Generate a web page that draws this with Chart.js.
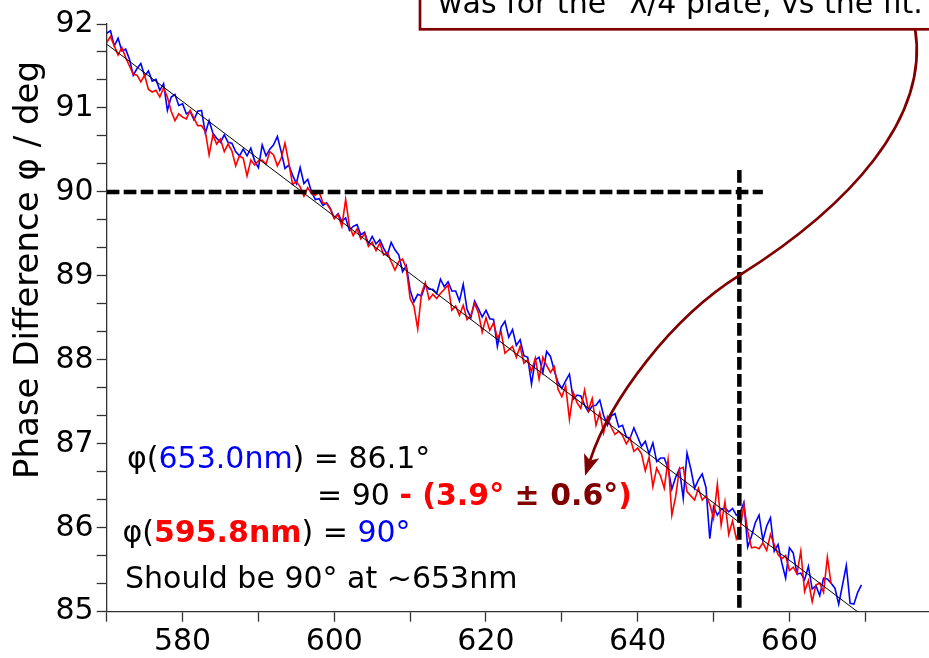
<!DOCTYPE html>
<html>
<head>
<meta charset="utf-8">
<script src="https://cdn.jsdelivr.net/npm/chart.js@4.4.1/dist/chart.umd.min.js"></script>
<style>
html, body { margin: 0; padding: 0; background: #fff; }
#wrap { width: 929px; height: 658px; }
</style>
</head>
<body>
<div id="wrap"><canvas id="phase-chart" width="929" height="658"></canvas></div>
<script>
// wavelength grid (nm) of the two measured runs
var waveStart = 570, waveStep = 0.5;

// blue run, phase difference in deg
var blueValues = [
	91.89, 91.92, 91.74, 91.83, 91.68, 91.70, 91.58, 91.39, 91.47, 91.53,
	91.38, 91.44, 91.32, 91.34, 91.21, 91.29, 90.97, 91.13, 91.16, 91.03,
	91.05, 90.93, 90.96, 90.86, 90.96, 90.97, 90.70, 90.85, 90.70, 90.64,
	90.59, 90.68, 90.59, 90.58, 90.48, 90.43, 90.51, 90.43, 90.52, 90.37,
	90.29, 90.56, 90.43, 90.51, 90.56, 90.66, 90.48, 90.28, 90.32, 90.20,
	90.10, 90.29, 90.10, 90.15, 90.00, 89.91, 89.92, 89.84, 89.87, 89.80,
	89.69, 89.74, 89.65, 89.69, 89.54, 89.59, 89.61, 89.49, 89.52, 89.38,
	89.47, 89.38, 89.43, 89.33, 89.25, 89.40, 89.31, 89.25, 89.05, 89.12,
	88.83, 88.69, 88.78, 88.76, 88.89, 88.84, 88.84, 88.79, 88.96, 88.87,
	88.93, 88.82, 88.82, 88.70, 88.90, 88.60, 88.50, 88.70, 88.61, 88.51,
	88.59, 88.49, 88.48, 88.16, 88.39, 88.46, 88.27, 88.36, 88.17, 88.24,
	88.05, 88.03, 87.71, 88.00, 88.03, 87.85, 88.10, 88.04, 87.87, 87.73,
	87.66, 87.75, 87.83, 87.53, 87.58, 87.57, 87.46, 87.38, 87.45, 87.46,
	87.52, 87.34, 87.22, 87.33, 87.36, 87.20, 87.22, 87.08, 87.07, 87.19,
	87.08, 86.97, 87.03, 86.88, 87.01, 86.79, 86.83, 86.83, 86.71, 86.46,
	86.60, 86.70, 86.35, 86.89, 86.70, 86.47, 86.57, 86.64, 86.48, 85.87,
	86.25, 86.15, 86.22, 86.24, 86.19, 86.23, 86.15, 86.18, 86.30, 85.77,
	85.90, 86.06, 86.15, 85.85, 86.02, 86.12, 85.72, 85.80, 85.58, 85.40,
	85.76, 85.70, 85.45, 85.46, 85.38, 85.54, 85.27, 85.31, 85.19, 85.40,
	85.39, 85.34, 85.28, 85.09, 85.32, 85.55, 85.10, 85.09, 85.23, 85.32
];

// red run, phase difference in deg
var redValues = [
	91.78, 91.85, 91.74, 91.63, 91.72, 91.60, 91.50, 91.40, 91.39, 91.31,
	91.39, 91.22, 91.19, 91.21, 91.13, 91.24, 91.13, 90.96, 90.85, 90.93,
	90.89, 90.87, 90.97, 90.88, 90.79, 90.79, 90.72, 90.44, 90.68, 90.57,
	90.63, 90.48, 90.57, 90.49, 90.31, 90.43, 90.40, 90.19, 90.38, 90.32,
	90.37, 90.38, 90.33, 90.48, 90.44, 90.31, 90.40, 90.58, 90.35, 90.09,
	90.12, 90.06, 89.95, 90.05, 89.98, 89.96, 90.00, 89.87, 89.86, 89.79,
	89.68, 89.73, 89.59, 89.91, 89.59, 89.48, 89.56, 89.44, 89.50, 89.35,
	89.40, 89.30, 89.39, 89.25, 89.28, 89.17, 89.07, 89.17, 89.20, 89.09,
	88.73, 88.64, 88.37, 88.79, 88.92, 88.72, 88.78, 88.73, 88.79, 88.84,
	88.89, 88.59, 88.64, 88.53, 88.65, 88.48, 88.53, 88.67, 88.56, 88.33,
	88.50, 88.35, 88.44, 88.26, 88.33, 88.08, 88.12, 88.16, 88.03, 88.16,
	87.96, 88.00, 87.86, 88.02, 87.77, 88.03, 87.93, 87.85, 87.92, 87.65,
	87.56, 87.69, 87.29, 87.61, 87.49, 87.42, 87.64, 87.40, 87.54, 87.22,
	87.37, 87.13, 87.32, 87.20, 87.11, 87.15, 87.10, 87.00, 87.07, 86.91,
	86.95, 86.88, 86.68, 86.84, 86.49, 86.71, 86.62, 86.47, 86.81, 86.15,
	86.37, 86.70, 86.72, 86.43, 86.38, 86.33, 86.47, 86.33, 86.38, 86.28,
	86.11, 86.52, 86.03, 86.31, 85.92, 86.08, 85.87, 85.99, 86.27, 85.96,
	85.76, 85.77, 85.75, 85.82, 85.73, 85.92, 85.80, 85.68, 85.63, 85.67,
	85.49, 85.53, 85.45, 85.72, 85.24, 85.37, 85.12, 85.32, 85.34, 85.23,
	85.65, 85.33
];

// linear fit ends
var fitX = [570, 670];
var fitY = [91.76, 84.93];

// the 90 deg / 653 nm guide lines
var guideX = [570, 656.5];
var guideY = [85, 90.26];
var markWave = 653.4, markPhase = 90;

var xTickLabels = [580, 600, 620, 640, 660];
var yTickLabels = [85, 86, 87, 88, 89, 90, 91, 92];

// arrow from the note box down to the data (wavelength, phase)
var arrowPath = [[676.57, 91.94], [678.47, 90.87], [667.88, 89.83], [653.4, 89.005],
	[644.42, 88.50], [636.35, 87.525], [633.06, 86.62]];

var darkRed = "#800000";
var FONT = '"DejaVu Sans", "Liberation Sans", sans-serif';

Chart.defaults.font.family = FONT;

function toPoints(vals){
	var pts = [];
	for(var i = 0; i < vals.length; i++){
		pts.push({x: waveStart + i * waveStep, y: vals[i]});
	}
	return pts;
}

function drawRuns(ctx, x, y, runs){
	for(var i = 0; i < runs.length; i++){
		ctx.font = (runs[i][2] ? 'bold ' : '') + '30px ' + FONT;
		ctx.fillStyle = runs[i][1];
		ctx.fillText(runs[i][0], x, y);
		x += ctx.measureText(runs[i][0]).width;
	}
}

var notesPlugin = {
	id: 'notes',
	beforeDraw: function(chart){
		var ctx = chart.ctx;
		ctx.save();
		ctx.fillStyle = '#fff';
		ctx.fillRect(0, 0, chart.width, chart.height);
		ctx.restore();
	},
	afterDraw: function(chart){
		var ctx = chart.ctx;
		var xs = chart.scales.x, ys = chart.scales.y;

		// y axis title
		ctx.save();
		ctx.fillStyle = '#000';
		ctx.font = '34px ' + FONT;
		ctx.translate(38, 270);
		ctx.rotate(-Math.PI / 2);
		ctx.textAlign = 'center';
		ctx.textBaseline = 'alphabetic';
		ctx.fillText('Phase Difference φ / deg', 0, 0);
		ctx.restore();

		// result text
		ctx.save();
		ctx.textAlign = 'left';
		ctx.textBaseline = 'alphabetic';
		drawRuns(ctx, 127, 468, [['φ(', '#000'], ['653.0nm', '#0000ff'], [') = 86.1°', '#000']]);
		drawRuns(ctx, 317, 505, [['= 90 ', '#000'], ['- (3.9°', '#ff0000', true], [' ± 0.6°', darkRed, true], [')', '#ff0000', true]]);
		drawRuns(ctx, 122.5, 542, [['φ(', '#000'], ['595.8nm', '#ff0000', true], [') = ', '#000'], ['90°', '#0000ff']]);
		drawRuns(ctx, 125, 588, [['Should be 90° at ~653nm', '#000']]);
		ctx.restore();

		// curved arrow
		var p = arrowPath.map(function(a){ return [xs.getPixelForValue(a[0]), ys.getPixelForValue(a[1])]; });
		var tip = p[6];
		var dx = tip[0] - p[5][0], dy = tip[1] - p[5][1];
		var len = Math.sqrt(dx * dx + dy * dy);
		dx /= len; dy /= len;
		var headLen = 21, headHalf = 8;
		var notch = [tip[0] - dx * (headLen - 5), tip[1] - dy * (headLen - 5)];
		ctx.save();
		ctx.strokeStyle = darkRed;
		ctx.fillStyle = darkRed;
		ctx.lineWidth = 2.7;
		ctx.beginPath();
		ctx.moveTo(p[0][0], p[0][1]);
		ctx.bezierCurveTo(p[1][0], p[1][1], p[2][0], p[2][1], p[3][0], p[3][1]);
		ctx.bezierCurveTo(p[4][0], p[4][1], p[5][0], p[5][1], notch[0], notch[1]);
		ctx.stroke();
		ctx.beginPath();
		ctx.moveTo(tip[0], tip[1]);
		ctx.lineTo(tip[0] - dx * headLen - dy * headHalf, tip[1] - dy * headLen + dx * headHalf);
		ctx.lineTo(notch[0], notch[1]);
		ctx.lineTo(tip[0] - dx * headLen + dy * headHalf, tip[1] - dy * headLen - dx * headHalf);
		ctx.closePath();
		ctx.fill();

		// note box, cut by the top of the figure
		ctx.fillStyle = '#fff';
		ctx.fillRect(420, -60, 560, 89.3);
		ctx.lineWidth = 2.7;
		ctx.strokeRect(420, -60, 560, 89.3);
		ctx.fillStyle = '#000';
		ctx.font = '30px ' + FONT;
		ctx.fillText('was for the "λ/4 plate, vs the fit.', 438, 13);
		ctx.restore();
	}
};

var phaseChart = new Chart(document.getElementById('phase-chart'), {
	type: 'line',
	data: {
		datasets: [
			{
				data: [{x: guideX[0], y: markPhase}, {x: guideX[1], y: markPhase}],
				borderColor: '#000', borderWidth: 4.5, borderDash: [12.7, 4.3],
				pointRadius: 0, order: 0
			},
			{
				data: [{x: markWave, y: guideY[1]}, {x: markWave, y: guideY[0]}],
				borderColor: '#000', borderWidth: 4.5, borderDash: [12.7, 4.3],
				pointRadius: 0, order: 0
			},
			{
				data: [{x: fitX[0], y: fitY[0]}, {x: fitX[1], y: fitY[1]}],
				borderColor: '#000', borderWidth: 1,
				pointRadius: 0, order: 1
			},
			{
				data: toPoints(redValues),
				borderColor: '#ff0000', borderWidth: 1.6,
				pointRadius: 0, order: 2
			},
			{
				data: toPoints(blueValues),
				borderColor: '#0000ff', borderWidth: 1.6,
				pointRadius: 0, order: 3
			}
		]
	},
	options: {
		responsive: false,
		animation: false,
		devicePixelRatio: 1,
		layout: { padding: { top: 24, left: 0, right: 0, bottom: 0 } },
		plugins: { legend: { display: false }, tooltip: { enabled: false } },
		elements: { line: { tension: 0, fill: false } },
		scales: {
			x: {
				type: 'linear', min: 570, max: 678.4,
				afterBuildTicks: function(axis){
					var t = [];
					for(var v = 570; v <= 670; v += 10) t.push({value: v});
					axis.ticks = t;
				},
				afterFit: function(axis){ axis.height = 46.3; },
				ticks: {
					color: '#000', font: {size: 30}, padding: 3,
					maxRotation: 0, autoSkip: false,
					callback: function(v){ return xTickLabels.indexOf(v) >= 0 ? String(v) : ''; }
				},
				grid: { drawOnChartArea: false, drawTicks: true, tickLength: 10, tickColor: '#333', tickWidth: 1.3 },
				border: { display: true, color: '#333', width: 1.3 }
			},
			y: {
				type: 'linear', min: 85, max: 92,
				afterBuildTicks: function(axis){
					var t = [];
					for(var i = 0; i <= 21; i++) t.push({value: 85 + i / 3});
					axis.ticks = t;
				},
				afterFit: function(axis){ axis.width = 106.7; },
				ticks: {
					color: '#000', font: {size: 30}, padding: 3, autoSkip: false,
					callback: function(v){
						var r = Math.round(v);
						return (Math.abs(v - r) < 1e-6 && yTickLabels.indexOf(r) >= 0) ? String(r) : '';
					}
				},
				grid: { drawOnChartArea: false, drawTicks: true, tickLength: 10, tickColor: '#333', tickWidth: 1.3 },
				border: { display: true, color: '#333', width: 1.3 }
			}
		}
	},
	plugins: [notesPlugin]
});
</script>
</body>
</html>
